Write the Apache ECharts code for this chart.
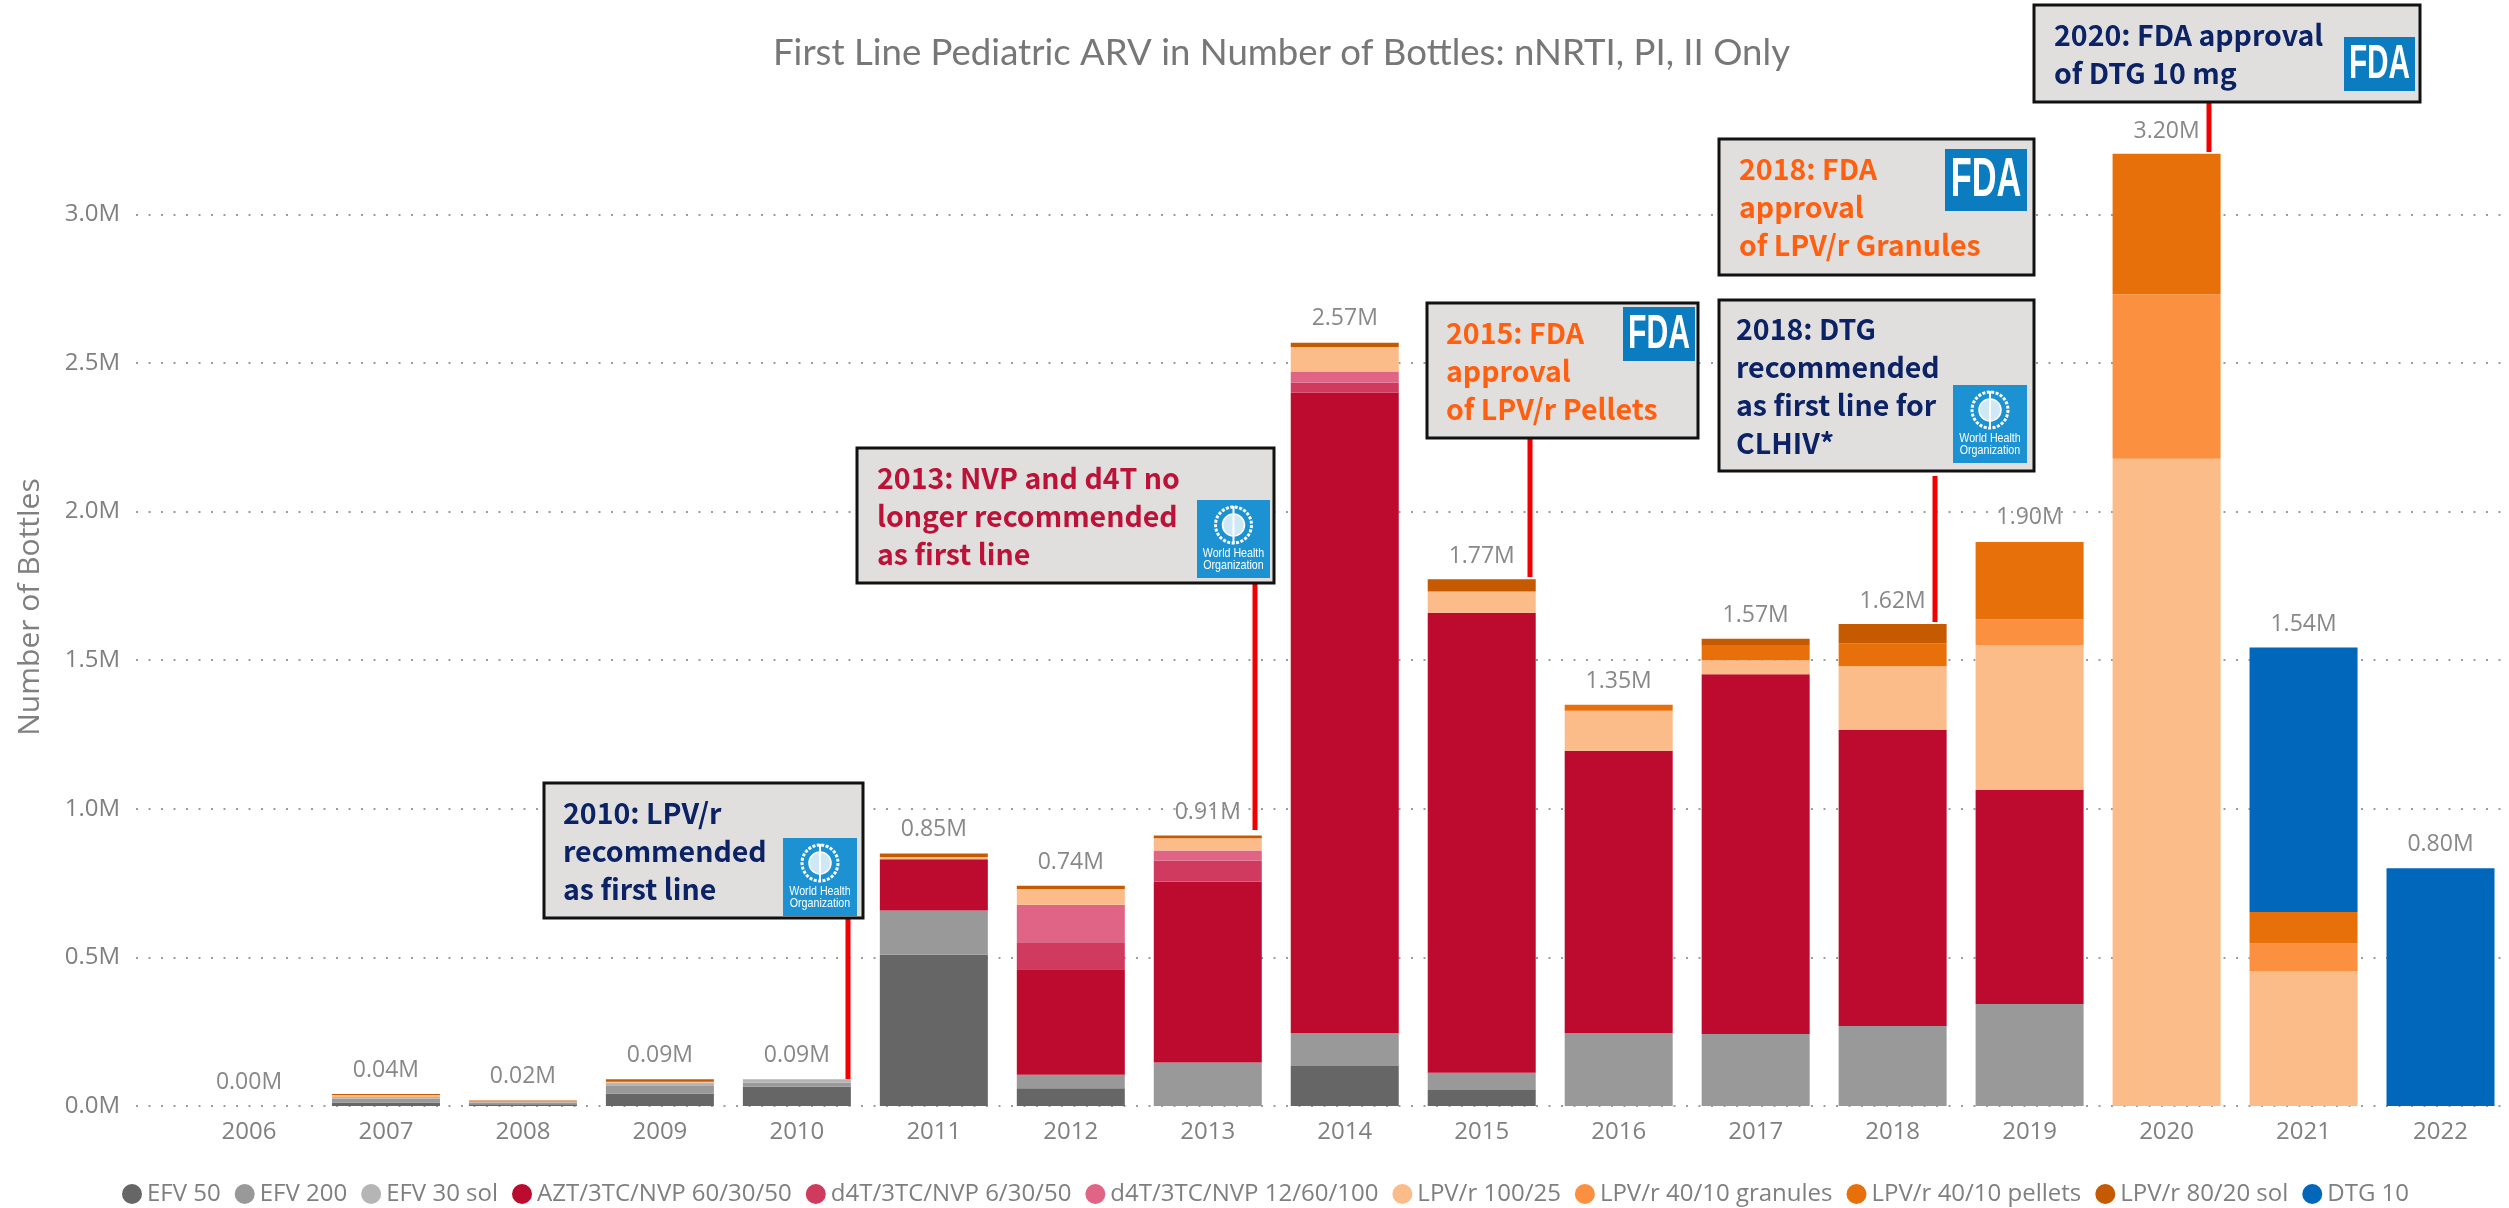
<!DOCTYPE html>
<html style="height: 100%">
    <head>
        <meta charset="utf-8">
    </head>
    <body style="height: 100%; margin: 0; background: #fff">
        <div id="container" style="height: 100%"></div>

        <script type="text/javascript" src="https://cdn.jsdelivr.net/npm/echarts@6/dist/echarts.min.js"></script>
        <script type="text/javascript">
var years = ['2006','2007','2008','2009','2010','2011','2012','2013','2014','2015','2016','2017','2018','2019','2020','2021','2022'];

// stacked values in millions of bottles, bottom of the stack first
var efv50    = [0, .012, .006, .042, .065, .51, .06, 0, .135, .054, 0, 0, 0, 0, 0, 0, 0];
var efv200   = [0, .013, .006, .025, .013, .148, .045, .146, .11, .058, .245, .242, .269, .343, 0, 0, 0];
var efv30    = [0, .005, .002, .012, .012, 0, 0, 0, 0, 0, 0, 0, 0, 0, 0, 0, 0];
var azt      = [0, 0, 0, 0, 0, .172, .355, .609, 2.155, 1.548, .95, 1.211, .996, .72, 0, 0, 0];
var d4t6     = [0, 0, .001, 0, 0, 0, .091, .07, .034, 0, 0, 0, 0, 0, 0, 0, 0];
var d4t12    = [0, 0, .002, 0, 0, 0, .126, .035, .037, 0, 0, 0, 0, 0, 0, 0, 0];
var lpv100   = [0, .007, .002, .003, 0, .008, .053, .041, .083, .071, .135, .047, .215, .488, 2.178, .454, 0];
var granules = [0, 0, 0, 0, 0, 0, 0, 0, 0, 0, 0, 0, 0, .087, .553, .094, 0];
var pellets  = [0, 0, 0, 0, 0, 0, 0, 0, 0, 0, .02, .051, .077, .26, .473, .105, 0];
var lpvSol   = [0, .003, .001, .008, 0, .012, .011, .009, .014, .041, 0, .021, .065, 0, 0, 0, 0];
var dtg      = [0, 0, 0, 0, 0, 0, 0, 0, 0, 0, 0, 0, 0, 0, 0, .89, .8];
var totals   = [0, .04, .02, .09, .09, .85, .74, .91, 2.57, 1.77, 1.35, 1.57, 1.62, 1.90, 3.20, 1.54, .80];

var names = ['EFV 50','EFV 200','EFV 30 sol','AZT/3TC/NVP 60/30/50','d4T/3TC/NVP 6/30/50','d4T/3TC/NVP 12/60/100','LPV/r 100/25','LPV/r 40/10 granules','LPV/r 40/10 pellets','LPV/r 80/20 sol','DTG 10'];
var stacks = [efv50, efv200, efv30, azt, d4t6, d4t12, lpv100, granules, pellets, lpvSol, dtg];
var colors = ['#666666','#999999','#b5b5b5','#bc0b2e','#cf3a5e','#df6486','#fbbc8a','#fa9040','#e8700a','#c55a00','#0067bb'];

var note2010 = ['2010: LPV/r', 'recommended', 'as first line'];
var note2013 = ['2013: NVP and d4T no', 'longer recommended', 'as first line'];
var note2015 = ['2015: FDA', 'approval', 'of LPV/r Pellets'];
var note2018a = ['2018: FDA', 'approval', 'of LPV/r Granules'];
var note2018b = ['2018: DTG', 'recommended', 'as first line for', 'CLHIV*'];
var note2020 = ['2020: FDA approval', 'of DTG 10 mg'];

var navy = '#0b2265', orange = '#ff5f0f', crimson = '#bc1238';
var noteFont = '700 28.5px "Noto Sans CJK JP", "Noto Sans", sans-serif';
var graphics = [];

function addLine(x, y1, y2) {
    graphics.push({type: 'rect', z: 20, shape: {x: x - 2.5, y: y1, width: 5, height: y2 - y1}, style: {fill: '#f00000'}});
}

function addBox(x1, y1, x2, y2) {
    graphics.push({type: 'rect', z: 21, shape: {x: x1, y: y1, width: x2 - x1, height: y2 - y1}, style: {fill: '#e0dfde', stroke: '#111', lineWidth: 3}});
}

function addText(lines, x, firstY, color) {
    for (var i = 0; i < lines.length; i++) {
        graphics.push({type: 'text', z: 22, x: x, y: firstY + i * 38, style: {text: lines[i], font: noteFont, fill: color, textVerticalAlign: 'middle'}});
    }
}

function addWho(x1, y1, x2, y2) {
    var cx = (x1 + x2) / 2;
    var small = '13px "Liberation Sans", sans-serif';
    graphics.push({type: 'rect', z: 22, shape: {x: x1, y: y1, width: x2 - x1, height: y2 - y1}, style: {fill: '#1c92d2'}});
    graphics.push({type: 'circle', z: 23, shape: {cx: cx, cy: y1 + 25, r: 18}, style: {fill: 'none', stroke: '#fff', lineWidth: 3, lineDash: [3, 1.5]}});
    graphics.push({type: 'circle', z: 23, shape: {cx: cx, cy: y1 + 25, r: 11}, style: {fill: '#cfe8f6', stroke: '#fff', lineWidth: 1.5}});
    graphics.push({type: 'rect', z: 23, shape: {x: cx - 1, y: y1 + 6, width: 2, height: 38}, style: {fill: '#fff'}});
    graphics.push({type: 'text', z: 23, x: cx, y: y1 + 53, scaleX: 0.82, style: {text: 'World Health', font: small, fill: '#fff', textAlign: 'center', textVerticalAlign: 'middle'}});
    graphics.push({type: 'text', z: 23, x: cx, y: y1 + 65, scaleX: 0.82, style: {text: 'Organization', font: small, fill: '#fff', textAlign: 'center', textVerticalAlign: 'middle'}});
}

function addFda(x1, y1, x2, y2) {
    var w = x2 - x1, h = y2 - y1;
    graphics.push({type: 'rect', z: 22, shape: {x: x1, y: y1, width: w, height: h}, style: {fill: '#0c7cc0'}});
    // squeezed to fit the logo width, letters touch as in the agency mark
    var size = Math.round(h * 0.88);
    graphics.push({type: 'text', z: 23, x: (x1 + x2) / 2, y: (y1 + y2) / 2 + 1, scaleX: (w * 0.86) / (size * 2.05), style: {text: 'FDA', font: '700 ' + size + 'px "Liberation Sans", sans-serif', fill: '#fff', textAlign: 'center', textVerticalAlign: 'middle'}});
}

addLine(848, 918, 1079);
addBox(544, 783, 863, 918);
addText(note2010, 563, 813, navy);
addWho(783, 838, 857, 916);

addLine(1255, 583, 830);
addBox(857, 448, 1274, 583);
addText(note2013, 877, 478, crimson);
addWho(1197, 500, 1270, 578);

addLine(1530, 438, 577);
addBox(1427, 303, 1698, 438);
addText(note2015, 1446, 333, orange);
addFda(1623, 307, 1695, 361);

addBox(1719, 139, 2034, 275);
addText(note2018a, 1739, 169, orange);
addFda(1945, 149, 2027, 211);

addLine(1935, 476, 622);
addBox(1719, 300, 2034, 471);
addText(note2018b, 1736, 329, navy);
addWho(1953, 385, 2027, 463);

addLine(2209, 102, 152);
addBox(2034, 5, 2420, 102);
addText(note2020, 2054, 35, navy);
addFda(2344, 37, 2415, 91);

// y axis title
graphics.push({type: 'text', x: 30, y: 607, rotation: Math.PI / 2, style: {text: 'Number of Bottles', font: '30px "Open Sans", sans-serif', fill: '#808080', textAlign: 'center', textVerticalAlign: 'middle'}});

var seriesList = [];
for (var i = 0; i < names.length; i++) {
    seriesList.push({
        name: names[i],
        type: 'bar',
        stack: 'bottles',
        xAxisIndex: 1,
        yAxisIndex: 1,
        barWidth: 108,
        data: stacks[i],
        itemStyle: {color: colors[i]}
    });
}
// invisible carrier for the total labels
seriesList.push({
    name: 'Total',
    type: 'line',
    xAxisIndex: 1,
    yAxisIndex: 1,
    data: totals,
    symbol: 'circle',
    symbolSize: 0,
    lineStyle: {width: 0, color: 'transparent'},
    itemStyle: {color: 'transparent'},
    z: 10,
    label: {
        show: true,
        position: 'top',
        distance: 12,
        color: '#888888',
        fontSize: 23,
        fontFamily: 'Open Sans',
        formatter: function (p) { return p.value.toFixed(2) + 'M'; }
    }
});

var myChart = echarts.init(document.getElementById('container'));
var option = {
    animation: false,
    backgroundColor: '#ffffff',
    title: {
        text: 'First Line Pediatric ARV in Number of Bottles: nNRTI, PI, II Only',
        left: 768,
        top: 30,
        textStyle: {color: '#777777', fontSize: 36.6, fontWeight: 'normal', fontFamily: 'Lato'}
    },
    legend: {
        data: names,
        left: 117,
        top: 1177,
        width: 2380,
        icon: 'circle',
        itemWidth: 20,
        itemHeight: 20,
        itemGap: 14,
        textStyle: {color: '#7f7f7f', fontSize: 24, fontFamily: 'Open Sans'}
    },
    grid: [
        {left: 136, right: 0, top: 65.8, height: 1040.2},
        {left: 180.5, width: 2329, top: 65.8, height: 1040.2}
    ],
    xAxis: [
        {type: 'value', gridIndex: 0, min: 0, max: 1, show: false},
        {
            type: 'category',
            gridIndex: 1,
            data: years,
            axisLine: {show: false},
            axisTick: {show: false},
            axisLabel: {color: '#808080', fontSize: 24, fontFamily: 'Open Sans', margin: 14, interval: 0}
        }
    ],
    yAxis: [
        {
            type: 'value',
            gridIndex: 0,
            min: 0,
            max: 3.5,
            interval: 0.5,
            axisLine: {show: false},
            axisTick: {show: false},
            axisLabel: {
                color: '#808080',
                fontSize: 24,
                fontFamily: 'Open Sans',
                margin: 16,
                showMaxLabel: false,
                formatter: function (v) { return v.toFixed(1) + 'M'; }
            },
            splitLine: {showMaxLine: false, lineStyle: {color: '#9c9c9c', width: 2, type: [2, 10.5]}}
        },
        {type: 'value', gridIndex: 1, min: 0, max: 3.5, interval: 0.5, show: false, splitLine: {show: false}}
    ],
    series: seriesList,
    graphic: graphics
};

myChart.setOption(option);
        </script>
    </body>
</html>
